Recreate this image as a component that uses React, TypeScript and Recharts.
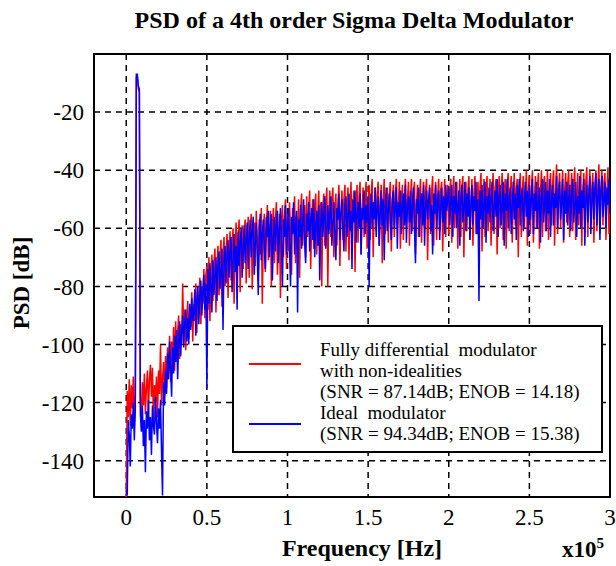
import React from "react";
import { LineChart, Line, XAxis, YAxis, CartesianGrid, ReferenceArea } from "recharts";

// PSD bins, 0.00625 x10^5 Hz apart (dB)
const BIN_WIDTH = 0.00625;

const idealPsd = [
  // 0 - 0.25
  -150, -152, -126, -131, -142, -124, -129, -120, -133, -122, -7, -7, -11, -12, -124, -130, -121, -135, -126, -144,
  -123, -129, -119, -133, -125, -138, -121, -128, -131, -118, -127, -134, -122, -129, -119, -137, -152, -113, -121, -109,
  // 0.25 - 0.5
  -117, -103, -112, -99, -108, -118, -101, -110, -97, -106, -95, -112, -99, -92, -104, -96, -90, -101, -93, -88,
  -99, -91, -100, -86, -95, -84, -92, -89, -81, -97, -85, -80, -93, -83, -78, -90, -82, -76, -88, -79,
  // 0.5 - 0.75
  -115, -74, -86, -72, -80, -89, -71, -83, -76, -70, -85, -73, -68, -81, -75, -67, -95, -72, -66, -79,
  -70, -64, -77, -68, -63, -82, -71, -62, -75, -66, -88, -61, -73, -65, -60, -77, -67, -59, -72, -64,
  // 0.75 - 1
  -58, -74, -63, -57, -70, -61, -56, -76, -65, -58, -69, -83, -60, -55, -71, -62, -57, -67, -74, -56,
  -63, -54, -70, -60, -55, -78, -64, -56, -68, -59, -54, -72, -61, -53, -66, -80, -57, -63, -52, -69,
  // 1 - 1.25
  -60, -53, -66, -80, -56, -62, -51, -69, -58, -54, -89, -57, -63, -52, -67, -59, -50, -65, -72, -55,
  -61, -51, -68, -57, -53, -64, -50, -70, -59, -54, -66, -52, -78, -58, -51, -63, -56, -49, -67, -60,
  // 1.25 - 1.5
  -52, -62, -55, -49, -66, -58, -51, -61, -71, -53, -57, -48, -64, -55, -50, -60, -68, -52, -49, -63,
  -56, -48, -61, -54, -74, -50, -58, -47, -65, -55, -51, -60, -48, -69, -53, -57, -47, -62, -52, -58,
  // 1.5 - 1.75
  -49, -80, -54, -48, -60, -51, -57, -46, -63, -53, -49, -66, -55, -47, -59, -50, -71, -52, -46, -61,
  -54, -48, -58, -64, -50, -47, -60, -53, -46, -67, -51, -56, -47, -62, -52, -48, -59, -45, -65, -53,
  // 1.75 - 2
  -49, -58, -47, -62, -52, -46, -60, -72, -50, -55, -46, -63, -51, -48, -59, -45, -66, -53, -47, -57,
  -50, -46, -61, -52, -69, -48, -55, -45, -60, -51, -47, -64, -53, -46, -58, -49, -62, -45, -54, -50,
  // 2 - 2.25
  -46, -59, -51, -45, -63, -49, -55, -44, -60, -52, -47, -66, -50, -45, -58, -53, -44, -61, -48, -56,
  -46, -64, -51, -45, -59, -49, -54, -44, -62, -50, -85, -47, -57, -45, -60, -52, -44, -65, -49, -55,
  // 2.25 - 2.5
  -46, -58, -50, -44, -61, -53, -47, -56, -43, -63, -49, -45, -59, -51, -44, -66, -48, -54, -43, -60,
  -50, -46, -62, -52, -44, -57, -48, -64, -45, -53, -43, -59, -49, -46, -61, -51, -44, -56, -47, -63,
  // 2.5 - 2.75
  -45, -57, -50, -43, -62, -48, -54, -44, -60, -51, -46, -65, -49, -43, -58, -52, -44, -61, -47, -55,
  -43, -63, -50, -45, -59, -48, -53, -42, -60, -49, -44, -57, -51, -43, -64, -47, -55, -44, -59, -50,
  // 2.75 - 3
  -45, -61, -48, -43, -58, -52, -44, -63, -49, -55, -42, -60, -47, -53, -43, -66, -50, -45, -58, -48,
  -42, -62, -51, -44, -57, -46, -41, -59, -49, -43, -64, -47, -42, -56, -50, -44, -60, -46, -52, -43,
  -55,
];

const nonIdealPsd = [
  // 0 - 0.25
  -153, -116, -125, -112, -128, -114, -122, -111, -127, -118, -8, -8, -12, -13, -119, -126, -113, -121, -110, -124,
  -115, -109, -123, -112, -107, -118, -108, -127, -114, -120, -111, -125, -109, -117, -100, -121, -112, -106, -118, -104,
  // 0.25 - 0.5
  -115, -101, -110, -97, -113, -99, -106, -94, -109, -92, -103, -96, -90, -105, -93, -100, -79, -97, -88, -102,
  -91, -85, -98, -88, -94, -82, -99, -86, -92, -79, -96, -83, -89, -77, -93, -80, -86, -74, -91, -76,
  // 0.5 - 0.75
  -73, -88, -70, -92, -78, -69, -85, -72, -67, -89, -74, -66, -83, -70, -64, -87, -71, -63, -80, -68,
  -62, -84, -69, -61, -78, -66, -60, -86, -67, -58, -76, -64, -57, -82, -66, -59, -74, -62, -57, -79,
  // 0.75 - 1
  -65, -56, -77, -62, -55, -81, -66, -58, -73, -54, -63, -78, -57, -69, -53, -86, -61, -55, -75, -59,
  -52, -71, -64, -54, -80, -60, -53, -72, -57, -51, -76, -63, -55, -84, -58, -52, -70, -56, -50, -74,
  // 1 - 1.25
  -55, -68, -51, -62, -76, -53, -59, -49, -72, -56, -61, -50, -77, -54, -48, -66, -58, -52, -70, -49,
  -63, -55, -47, -74, -57, -50, -67, -53, -48, -69, -56, -47, -64, -51, -80, -54, -48, -66, -52, -46,
  // 1.25 - 1.5
  -80, -55, -47, -63, -51, -46, -70, -54, -48, -66, -52, -45, -73, -56, -47, -64, -50, -45, -68, -53,
  -46, -71, -55, -44, -62, -51, -47, -75, -53, -45, -65, -49, -44, -69, -54, -46, -63, -50, -44, -67,
  // 1.5 - 1.75
  -52, -45, -64, -49, -43, -70, -53, -46, -61, -48, -44, -66, -51, -45, -72, -50, -43, -62, -54, -46,
  -65, -49, -44, -68, -52, -45, -63, -48, -43, -60, -53, -44, -67, -50, -45, -64, -49, -43, -58, -51,
  // 1.75 - 2
  -44, -66, -50, -43, -61, -48, -44, -69, -52, -45, -63, -49, -43, -65, -51, -44, -60, -47, -43, -71,
  -53, -45, -62, -48, -42, -66, -50, -44, -64, -49, -43, -61, -47, -44, -68, -52, -43, -63, -48, -45,
  // 2 - 2.25
  -62, -47, -43, -65, -50, -42, -60, -48, -44, -67, -51, -43, -63, -46, -42, -70, -49, -44, -61, -47,
  -42, -64, -52, -43, -66, -48, -42, -62, -50, -44, -59, -46, -41, -68, -49, -43, -63, -47, -42, -61,
  // 2.25 - 2.5
  -50, -43, -66, -48, -41, -62, -46, -43, -69, -51, -42, -60, -47, -41, -64, -49, -43, -67, -45, -41,
  -61, -48, -42, -65, -50, -41, -59, -46, -43, -70, -48, -41, -63, -47, -42, -60, -49, -40, -66, -46,
  // 2.5 - 2.75
  -42, -62, -47, -40, -65, -50, -42, -60, -46, -41, -67, -48, -40, -63, -45, -42, -61, -49, -40, -64,
  -47, -41, -59, -45, -40, -66, -48, -38, -62, -46, -41, -60, -49, -40, -65, -47, -41, -58, -45, -40,
  // 2.75 - 3
  -63, -48, -41, -61, -46, -39, -64, -50, -41, -59, -45, -40, -66, -47, -41, -60, -44, -39, -63, -49,
  -40, -58, -46, -41, -65, -48, -40, -61, -45, -38, -62, -47, -40, -59, -44, -41, -64, -48, -39, -62,
  -47,
];

const xTicks = [0, 0.5, 1, 1.5, 2, 2.5, 3];
const yTicks = [-140, -120, -100, -80, -60, -40, -20];

const data = idealPsd.map((v, i) => ({
  f: i * BIN_WIDTH,
  ideal: v,
  nonIdeal: nonIdealPsd[i],
}));

const serif = "Liberation Serif, Tinos, Times New Roman, Times, Nimbus Roman, DejaVu Serif";
const tickStyle = { fontFamily: serif, fontSize: 23, fill: "#000" };

export default function App() {
  return (
    <div style={{ position: "absolute", left: 0, top: 0, width: 616, height: 566, background: "#fff", fontFamily: serif }}>
      <LineChart width={616} height={566} data={data} margin={{ top: 54, right: 6, bottom: 0, left: 0 }}>
        <CartesianGrid stroke="#000" strokeWidth={1.5} strokeDasharray="6 5" />
        <XAxis
          type="number"
          dataKey="f"
          domain={[-0.2, 3]}
          ticks={xTicks}
          tickFormatter={(v) => String(v)}
          allowDataOverflow
          tickLine={false}
          axisLine={false}
          tickMargin={6}
          height={69}
          tick={tickStyle}
        />
        <YAxis
          type="number"
          domain={[-152.5, 0]}
          ticks={yTicks}
          allowDataOverflow
          tickLine={false}
          axisLine={false}
          tickMargin={4}
          width={94}
          tick={tickStyle}
        />
        <Line type="linear" dataKey="nonIdeal" stroke="#ff0000" strokeWidth={1.5} dot={false} isAnimationActive={false} />
        <Line type="linear" dataKey="ideal" stroke="#0000ff" strokeWidth={1.5} dot={false} isAnimationActive={false} />
        <ReferenceArea x1={-0.2} x2={3} y1={-152.5} y2={0} fill="none" stroke="#000" strokeWidth={2} />
      </LineChart>

      <div style={{ position: "absolute", left: 104, top: 7, width: 500, textAlign: "center", fontWeight: "bold", fontSize: 24, whiteSpace: "nowrap" }}>
        PSD of a 4th order Sigma Delta Modulator
      </div>
      <div
        style={{
          position: "absolute",
          left: 22,
          top: 283,
          fontWeight: "bold",
          fontSize: 23,
          whiteSpace: "nowrap",
          transform: "translate(-50%, -50%) rotate(-90deg)",
        }}
      >
        PSD [dB]
      </div>
      <div style={{ position: "absolute", left: 262, top: 535, width: 200, textAlign: "center", fontWeight: "bold", fontSize: 24 }}>
        Frequency [Hz]
      </div>
      <div style={{ position: "absolute", left: 562, top: 535, fontWeight: "bold", fontSize: 23 }}>
        x10<sup style={{ fontSize: 15 }}>5</sup>
      </div>

      <div
        style={{
          position: "absolute",
          left: 232,
          top: 325,
          width: 367,
          height: 124,
          border: "2px solid #000",
          background: "#fff",
          fontSize: 19,
          lineHeight: "21px",
        }}
      >
        <div style={{ position: "absolute", left: 15, top: 36, width: 52, borderTop: "2px solid #ff0000" }} />
        <div style={{ position: "absolute", left: 15, top: 96, width: 52, borderTop: "2px solid #0000ff" }} />
        <div style={{ position: "absolute", left: 86, top: 12, whiteSpace: "nowrap" }}>
          <div>Fully differential&nbsp; modulator</div>
          <div>with non-idealities</div>
          <div>(SNR = 87.14dB; ENOB = 14.18)</div>
          <div>Ideal&nbsp; modulator</div>
          <div>(SNR = 94.34dB; ENOB = 15.38)</div>
        </div>
      </div>
    </div>
  );
}
